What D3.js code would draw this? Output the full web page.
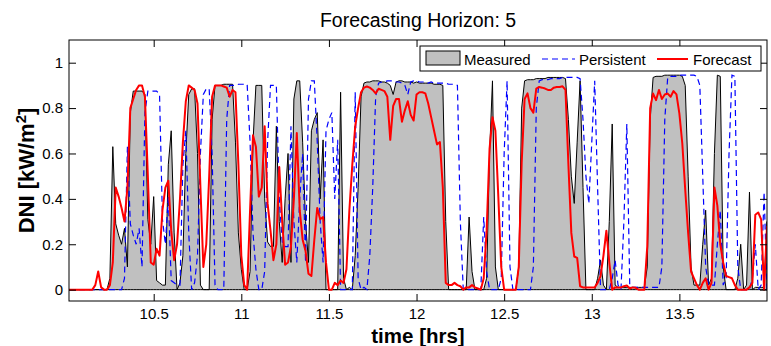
<!DOCTYPE html>
<html>
<head>
<meta charset="utf-8">
<script src="https://cdn.jsdelivr.net/npm/d3@7"></script>
<style>
  body { margin: 0; background: #fff; }
  svg { display: block; font-family: "Liberation Sans", Arial, sans-serif; }
</style>
</head>
<body>
<svg id="chart" width="771" height="346"></svg>
<script>
// one sample per minute, 10:01 .. 14:00
const startHour = 10;
const nSamples = 240;

const measured = [
  0,0,0,0,0,0,0,0,0,0,0,0,0,0,0.05,0.63,0.29,0.24,0.20,0.27,
  0.10,0.78,0.875,0.875,0.875,0.875,0.86,0.31,0.20,0.41,0.04,0.03,0.02,0.02,0.55,0.70,0.25,0,0.03,0.15,
  0.60,0.86,0.885,0.885,0.60,0.02,0,0,0,0.75,0.90,0.90,0.90,0.905,0.905,0.905,0.905,0.65,0.25,0.09,
  0,0,0.08,0.65,0.90,0.90,0.90,0.40,0.21,0.19,0.19,0.72,0.30,0.12,0.40,0.60,0.12,0.84,0.92,0.92,
  0.65,0.30,0.12,0.70,0.75,0.78,0.40,0.66,0,0,0,0,0,0.87,0.05,0,0.01,0,0.15,0.45,
  0.85,0.91,0.915,0.915,0.92,0.92,0.92,0.915,0.915,0.91,0.90,0.86,0.915,0.92,0.92,0.915,0.915,0.915,0.91,0.915,
  0.91,0.91,0.91,0.91,0.91,0.905,0.905,0.905,0.90,0.30,0,0,0,0,0,0,0,0.32,0.08,0,
  0,0,0,0.05,0.60,0.92,0.10,0,0,0,0,0,0,0,0.10,0.80,0.92,0.925,0.925,0.925,
  0.93,0.93,0.93,0.93,0.935,0.935,0.935,0.935,0.935,0.935,0.93,0.75,0.50,0.38,0.65,0.92,0.45,0,0,0,
  0,0.05,0.13,0.02,0,0.30,0.73,0.02,0.01,0.01,0.01,0.01,0.01,0.01,0.01,0.01,0.01,0.01,0.10,0.75,
  0.935,0.94,0.94,0.94,0.945,0.945,0.945,0.945,0.945,0.945,0.94,0.90,0.50,0.10,0.02,0.02,0.02,0.20,0.35,0.02,
  0.05,0.60,0.945,0.94,0.10,0,0,0,0,0.05,0.20,0,0.02,0.43,0,0.01,0.01,0.01,0.01,0.30
];

const persistent = [
  0,0,0,0,0,0,0,0,0,0,0,0,0,0,0,0,0,0,0,0.05,
  0.63,0.29,0.24,0.20,0.27,0.10,0.78,0.875,0.875,0.875,0.875,0.86,0.31,0.20,0.41,0.04,0.03,0.02,0.02,0.55,
  0.70,0.25,0,0.03,0.15,0.60,0.86,0.885,0.885,0.60,0.02,0,0,0,0.75,0.90,0.90,0.90,0.905,0.905,
  0.905,0.905,0.65,0.25,0.09,0,0,0.08,0.65,0.90,0.90,0.90,0.40,0.21,0.19,0.19,0.72,0.30,0.12,0.40,
  0.60,0.12,0.84,0.92,0.92,0.65,0.30,0.12,0.70,0.75,0.78,0.40,0.66,0,0,0,0,0,0.87,0.05,
  0,0.01,0,0.15,0.45,0.85,0.91,0.915,0.915,0.92,0.92,0.92,0.915,0.915,0.91,0.90,0.86,0.915,0.92,0.92,
  0.915,0.915,0.915,0.91,0.915,0.91,0.91,0.91,0.91,0.91,0.905,0.905,0.905,0.90,0.30,0,0,0,0,0,
  0,0,0.32,0.08,0,0,0,0,0.05,0.60,0.92,0.10,0,0,0,0,0,0,0,0.10,
  0.80,0.92,0.925,0.925,0.925,0.93,0.93,0.93,0.93,0.935,0.935,0.935,0.935,0.935,0.935,0.93,0.75,0.50,0.38,0.65,
  0.92,0.45,0,0,0,0,0.05,0.13,0.02,0,0.30,0.73,0.02,0.01,0.01,0.01,0.01,0.01,0.01,0.01,
  0.01,0.01,0.01,0.10,0.75,0.935,0.94,0.94,0.94,0.945,0.945,0.945,0.945,0.945,0.945,0.94,0.90,0.50,0.10,0.02,
  0.02,0.02,0.20,0.35,0.02,0.05,0.60,0.945,0.94,0.10,0,0,0,0,0.05,0.20,0,0.02,0.43,0
];

const forecast = [
  0,0,0,0,0,0,0,0,0,0.02,0.08,0.01,0,0,0.02,0.12,0.45,0.41,0.36,0.30,
  0.45,0.80,0.84,0.88,0.90,0.90,0.85,0.50,0.12,0.11,0.18,0.15,0.35,0.45,0.48,0.26,0.13,0.20,0.40,0.65,
  0.83,0.90,0.89,0.88,0.82,0.45,0.10,0.20,0.50,0.85,0.90,0.90,0.90,0.895,0.89,0.85,0.88,0.87,0.55,0.15,
  0.02,0,0.35,0.68,0.63,0.41,0.45,0.72,0.38,0.26,0.13,0.20,0.54,0.30,0.11,0.12,0.19,0.40,0.69,0.35,
  0.22,0.17,0.07,0.06,0.22,0.36,0.31,0.32,0.12,0,0,0.03,0.02,0.04,0.03,0.09,0.35,0.55,0.72,0.80,
  0.87,0.89,0.895,0.89,0.88,0.865,0.885,0.88,0.875,0.85,0.66,0.81,0.84,0.84,0.74,0.79,0.83,0.77,0.745,0.86,
  0.87,0.87,0.865,0.82,0.76,0.70,0.64,0.65,0.45,0.03,0.02,0.02,0.03,0.02,0.015,0,0.01,0.01,0.02,0.01,
  0.005,0,0.05,0.26,0.62,0.76,0.70,0.41,0.10,0,0,0,0,0,0.10,0.56,0.84,0.865,0.80,0.78,
  0.886,0.893,0.89,0.886,0.88,0.88,0.89,0.893,0.893,0.896,0.88,0.55,0.25,0.146,0.14,0.015,0.01,0.01,0.01,0.01,
  0.01,0.03,0.06,0.15,0.26,0.12,0,0.01,0.01,0.01,0.015,0.018,0.005,0.01,0.008,0,0,0,0.19,0.80,
  0.864,0.835,0.88,0.84,0.86,0.864,0.85,0.875,0.86,0.776,0.644,0.44,0.25,0.08,0.05,0.02,0,0.03,0.05,0,
  0.03,0.45,0.37,0.20,0.12,0.06,0.055,0.05,0.02,0,0,0,0,0.01,0.03,0.33,0.34,0.31,0,0.28
];

const xTicks = [10.5, 11, 11.5, 12, 12.5, 13, 13.5];
const yTicks = [0, 0.2, 0.4, 0.6, 0.8, 1];
const legendLabels = ['Measured', 'Persistent', 'Forecast'];

const time = d3.range(1, nSamples + 1).map((m) => startHour + m / 60);

const svg = d3.select('#chart');
const margin = { top: 40, right: 4, bottom: 45, left: 69 };
const width = +svg.attr('width') - margin.left - margin.right;
const height = +svg.attr('height') - margin.top - margin.bottom;

const x = d3.scaleLinear().domain([time[0], time[nSamples - 1]]).range([0, width]);
const y = d3.scaleLinear().domain([-0.05, 1.1]).range([height, 0]);

const g = svg.append('g').attr('transform', `translate(${margin.left},${margin.top})`);

g.append('defs').append('clipPath').attr('id', 'clip')
  .append('rect').attr('width', width).attr('height', height);

const plot = g.append('g').attr('clip-path', 'url(#clip)');

const area = d3.area()
  .x((d, i) => x(time[i]))
  .y0(y(0))
  .y1((d) => y(d));

const line = d3.line()
  .x((d, i) => x(time[i]))
  .y((d) => y(d));

plot.append('path')
  .datum(measured)
  .attr('d', area)
  .attr('fill', '#c0c0c0')
  .attr('stroke', '#000')
  .attr('stroke-width', 1)
  .attr('stroke-linejoin', 'round');

plot.append('path')
  .datum(persistent)
  .attr('d', line)
  .attr('fill', 'none')
  .attr('stroke', '#0000ff')
  .attr('stroke-width', 1.2)
  .attr('stroke-dasharray', '6,4');

plot.append('path')
  .datum(forecast)
  .attr('d', line)
  .attr('fill', 'none')
  .attr('stroke', '#ff0000')
  .attr('stroke-width', 2)
  .attr('stroke-linejoin', 'round');

// axes, ticks pointing inward like matlab
const tickFont = (sel) => sel.selectAll('text')
  .attr('font-size', 15).attr('fill', '#000')
  .attr('font-family', '"Liberation Sans", Arial, sans-serif');

const clean = (sel) => {
  sel.select('.domain').remove();
  sel.selectAll('line').attr('stroke', '#000');
};

g.append('g')
  .attr('transform', `translate(0,${height})`)
  .call(d3.axisBottom(x).tickValues(xTicks).tickFormat(d3.format('~g')).tickSize(-7).tickPadding(7))
  .call(clean).call(tickFont);

g.append('g')
  .call(d3.axisTop(x).tickValues(xTicks).tickFormat('').tickSize(-7))
  .call(clean);

g.append('g')
  .call(d3.axisLeft(y).tickValues(yTicks).tickFormat(d3.format('~g')).tickSize(-7).tickPadding(6))
  .call(clean).call(tickFont);

g.append('g')
  .attr('transform', `translate(${width},0)`)
  .call(d3.axisRight(y).tickValues(yTicks).tickFormat('').tickSize(-7))
  .call(clean);

g.append('rect')
  .attr('width', width)
  .attr('height', height)
  .attr('fill', 'none')
  .attr('stroke', '#000')
  .attr('stroke-width', 1);

// title + axis labels
svg.append('text')
  .attr('x', margin.left + width / 2)
  .attr('y', 27)
  .attr('text-anchor', 'middle')
  .attr('font-size', 19.5)
  .text('Forecasting Horizon: 5');

svg.append('text')
  .attr('x', margin.left + width / 2)
  .attr('y', 342.5)
  .attr('text-anchor', 'middle')
  .attr('font-size', 20.5)
  .attr('font-weight', 'bold')
  .text('time [hrs]');

const yl = svg.append('text')
  .attr('transform', `translate(34,${margin.top + height / 2}) rotate(-90)`)
  .attr('text-anchor', 'middle')
  .attr('font-size', 22)
  .attr('font-weight', 'bold');
yl.append('tspan').text('DNI [kW/m');
yl.append('tspan').attr('font-size', 15).attr('dy', -8).text('2');
yl.append('tspan').attr('dy', 8).text(']');

// legend
const lg = svg.append('g').attr('transform', 'translate(420,46)');
lg.append('rect')
  .attr('width', 341).attr('height', 25)
  .attr('fill', '#fff').attr('stroke', '#000');

lg.append('rect')
  .attr('x', 6).attr('y', 5).attr('width', 34).attr('height', 14)
  .attr('fill', '#c0c0c0').attr('stroke', '#000');
lg.append('line')
  .attr('x1', 122).attr('x2', 155).attr('y1', 13).attr('y2', 13)
  .attr('stroke', '#0000ff').attr('stroke-width', 1.2).attr('stroke-dasharray', '6,4');
lg.append('line')
  .attr('x1', 237).attr('x2', 268).attr('y1', 13).attr('y2', 13)
  .attr('stroke', '#ff0000').attr('stroke-width', 2);

lg.selectAll('text.lbl')
  .data(legendLabels)
  .enter()
  .append('text')
  .attr('class', 'lbl')
  .attr('x', (d, i) => [44, 159, 273][i])
  .attr('y', 18.5)
  .attr('font-size', 15)
  .text((d) => d);
</script>
</body>
</html>
